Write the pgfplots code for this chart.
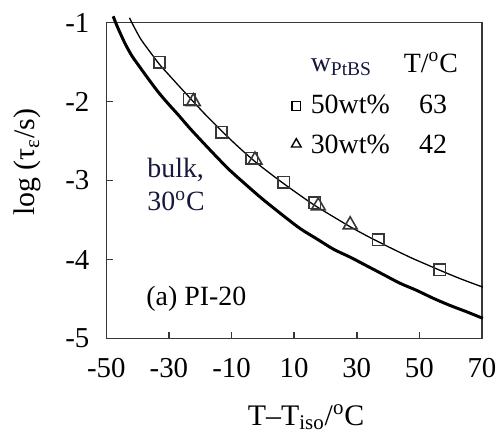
\documentclass[border=0pt]{standalone}
\usepackage{pgfplots}
\pgfplotsset{compat=1.18}
\usepackage{fontspec}
\setmainfont{Liberation Serif}
\definecolor{navytext}{RGB}{22,24,60}
\definecolor{framegray}{RGB}{55,55,55}
\newcommand{\tk}{\fontsize{14.5}{16}\selectfont}
\newcommand{\lb}{\fontsize{15}{17}\selectfont}
\newcommand{\ins}{\fontsize{14}{16}\selectfont}

\begin{document}
\begin{tikzpicture}
\begin{axis}[
  scale only axis,
  width=188.7pt, height=158.7pt,
  xmin=-50, xmax=70, ymin=-5, ymax=-1,
  clip=false,
  axis line style={framegray, line width=0.8pt},
  tick style={framegray, line width=0.8pt},
  tick align=inside, tick pos=left,
  major tick length=3.3pt,
  xtick={-50,-30,...,70},
  xticklabels={-50,-30,-10,10,30,50,70},
  ytick={-5,-4,-3,-2,-1},
  yticklabels={-5,-4,-3,-2,-1},
  xticklabel style={font=\tk, yshift=-6.5pt},
  yticklabel style={font=\tk, xshift=-5pt},
  xlabel={T--T\textsubscript{iso}/\textsuperscript{o}C},
  ylabel={log (τ\textsubscript{ε}/s)},
  label style={font=\lb},
  xlabel style={at={(rel axis cs:0.532,-0.274)}, anchor=base},
  ylabel style={at={(rel axis cs:-0.209,0.558)}, anchor=center},
]
% bulk, 30 C (thick)
\addplot[black, line width=1.5pt, smooth] coordinates {
  (-47.8,-0.92) (-46.6,-1.04) (-44.2,-1.25) (-42.0,-1.41) (-39.9,-1.53)
  (-36.8,-1.70) (-33.6,-1.87) (-30.4,-2.02) (-27.2,-2.16) (-23.5,-2.33)
  (-19.3,-2.51) (-15.0,-2.69) (-10.8,-2.86) (-6.6,-3.01) (-2.3,-3.16)
  (1.0,-3.27) (6.7,-3.45) (12.0,-3.61) (17.3,-3.74) (22.6,-3.87)
  (27.9,-3.97) (33.2,-4.08) (38.5,-4.19) (43.8,-4.30) (49.1,-4.39)
  (54.4,-4.49) (59.7,-4.58) (65.0,-4.66) (70.3,-4.745)
};
% fit curve for solutions (thin)
\addplot[black, line width=0.65pt, smooth] coordinates {
  (-42.6,-0.94) (-41.0,-1.065) (-38.9,-1.215) (-36.8,-1.33) (-33.0,-1.53)
  (-30.4,-1.645) (-27.2,-1.785) (-23.5,-1.945) (-18.7,-2.15) (-13.2,-2.37)
  (-8.6,-2.545) (-2.8,-2.75) (2.0,-2.90) (6.7,-3.04) (12.0,-3.19)
  (16.8,-3.32) (22.6,-3.46) (27.9,-3.585) (33.2,-3.70) (36.9,-3.775)
  (41.7,-3.87) (47.5,-3.98) (53.0,-4.075) (56.5,-4.135) (62.9,-4.24)
  (70.3,-4.35)
};
% 50 wt% PtBS
\addplot[only marks, mark=square, mark size=2.9pt, mark options={framegray, line width=0.8pt, fill=white}] coordinates {
  (-33.0,-1.50) (-23.5,-1.97) (-13.2,-2.39) (-3.5,-2.72)
  (6.7,-3.02) (16.6,-3.28) (36.9,-3.75) (56.5,-4.13)
};
% 30 wt% PtBS
\addplot[only marks, mark=triangle, mark size=4pt, mark options={framegray, line width=0.8pt}] coordinates {
  (-22.2,-2.00) (-2.5,-2.74) (17.7,-3.32) (27.9,-3.56)
};
% legend markers
\addplot[only marks, mark=square, mark size=2.2pt, mark options={black, line width=0.7pt}] coordinates {(10.7,-2.054)};
\addplot[only marks, mark=triangle, mark size=2.8pt, mark options={black, line width=0.7pt}] coordinates {(10.7,-2.54)};

\node[anchor=base west, font=\ins, text=navytext, inner sep=0pt] at (axis cs:15.2,-1.62) {w\textsubscript{PtBS}};
\node[anchor=base west, font=\ins, inner sep=0pt] at (axis cs:44.9,-1.63) {T/\textsuperscript{o}C};
\node[anchor=base west, font=\ins, inner sep=0pt] at (axis cs:15.2,-2.155) {50wt\%};
\node[anchor=base, font=\ins, inner sep=0pt] at (axis cs:54.4,-2.155) {63};
\node[anchor=base west, font=\ins, inner sep=0pt] at (axis cs:15.2,-2.655) {30wt\%};
\node[anchor=base, font=\ins, inner sep=0pt] at (axis cs:54.4,-2.655) {42};
\node[anchor=base west, font=\ins, text=navytext, inner sep=0pt] at (axis cs:-37.0,-2.96) {bulk,};
\node[anchor=base west, font=\ins, text=navytext, inner sep=0pt] at (axis cs:-37.0,-3.38) {30\textsuperscript{o}C};
\node[anchor=base west, font=\ins, inner sep=0pt] at (axis cs:-37.3,-4.58) {(a) PI-20};

\path[draw=none] (rel axis cs:-0.283,1.0715) rectangle (rel axis cs:1.0504,-0.29);
\end{axis}
\end{tikzpicture}
\end{document}
